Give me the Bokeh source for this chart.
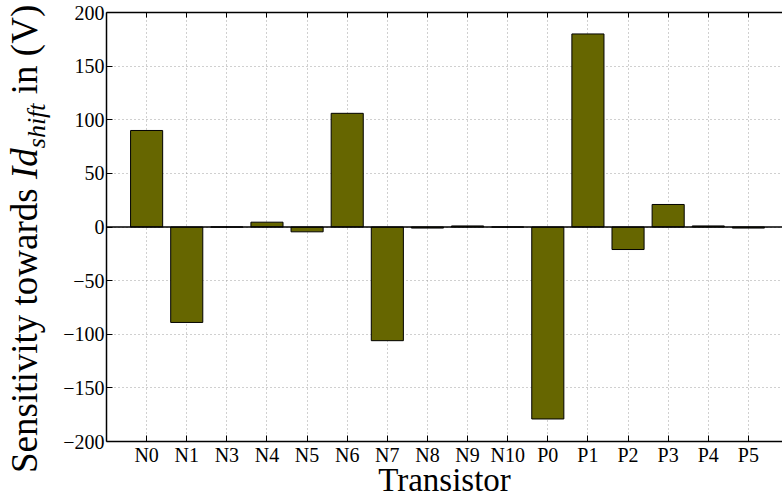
from bokeh.plotting import figure
from bokeh.models import FixedTicker, LinearAxis, Span, ColumnDataSource, Range1d, Div
from bokeh.layouts import row
from bokeh.embed import file_html
from bokeh.resources import INLINE

transistors = ["N0", "N1", "N3", "N4", "N5", "N6", "N7", "N8", "N9", "N10",
               "P0", "P1", "P2", "P3", "P4", "P5"]
sensitivity = [90, -89, 0, 4.5, -4.5, 106, -106, -1, 1, 0,
               -179, 180, -21, 21, 1, -1]
y_ticks = [-200, -150, -100, -50, 0, 50, 100, 150, 200]
positions = list(range(1, len(transistors) + 1))

ylabel_main, ylabel_sym, ylabel_sub, ylabel_tail = "Sensitivity towards ", "Id", "shift", " in (V)"
xlabel_text = "Transistor"

SERIF = "Liberation Serif"
W, H = 782, 502
LW = 60                     # strip holding the rotated y title
TOP, BOTTOM, LEFT = 12, 61, 103

# ---------------- rotated y title (HTML, with italic symbol and subscript) ----------------
ytitle_html = (
    f'<div style="position:relative;width:{LW}px;height:{H}px;overflow:hidden;">'
    f'<div style="position:absolute;left:6px;top:473px;transform-origin:0 0;'
    f'transform:rotate(-90deg);white-space:nowrap;font-family:\'{SERIF}\';'
    f'font-size:37px;line-height:1;color:black;">'
    f'{ylabel_main}<i>{ylabel_sym}</i>'
    f'<span style="position:relative;top:8px;font-size:26px;font-style:italic;">{ylabel_sub}</span>'
    f'{ylabel_tail}</div></div>'
)
ytitle = Div(text=ytitle_html, width=LW, height=H, margin=(0, 0, 0, 0))

# ---------------- main chart ----------------
src = ColumnDataSource(dict(x=positions, top=sensitivity, name=transistors))

p = figure(width=W - LW, height=H, x_range=Range1d(0, 16.85), y_range=Range1d(-200, 200),
           output_backend="svg", toolbar_location=None,
           min_border_left=LEFT - LW, min_border_right=0,
           min_border_top=TOP, min_border_bottom=BOTTOM)
p.outline_line_color = None
p.background_fill_color = "white"
p.border_fill_color = "white"

for g in (p.xgrid, p.ygrid):
    g.grid_line_color = "#a0a0a0"
    g.grid_line_dash = "1 3"
    g.grid_line_width = 1
p.xgrid.ticker = FixedTicker(ticks=positions)
p.ygrid.ticker = FixedTicker(ticks=y_ticks)

p.vbar(x="x", top="top", bottom=0, width=0.8, source=src,
       fill_color="#666600", line_color="black", line_width=1)

p.add_layout(Span(location=0, dimension="width", line_color="black", line_width=1.5))

xa = p.xaxis[0]
xa.ticker = FixedTicker(ticks=positions)
xa.major_label_overrides = {pos: name for pos, name in zip(positions, transistors)}
xa.major_label_text_font = SERIF
xa.major_label_text_font_size = "20px"
xa.major_label_standoff = 2
xa.axis_label = xlabel_text
xa.axis_label_text_font = SERIF
xa.axis_label_text_font_size = "33px"
xa.axis_label_text_font_style = "normal"
xa.axis_label_standoff = -7

ya = p.yaxis[0]
ya.ticker = FixedTicker(ticks=y_ticks)
ya.major_label_overrides = {t: (str(t).replace("-", "\u2212")) for t in y_ticks}
ya.major_label_text_font = SERIF
ya.major_label_text_font_size = "20px"
ya.major_label_standoff = 2

for ax in (xa, ya):
    ax.major_tick_in = 6
    ax.major_tick_out = 0
    ax.minor_tick_line_color = None
    ax.axis_line_width = 1.5
    ax.axis_line_color = "black"
    ax.major_tick_line_color = "black"
    ax.major_label_text_color = "black"
    ax.axis_label_text_color = "black"

top = LinearAxis(ticker=FixedTicker(ticks=positions), major_label_text_font_size="0px",
                 major_label_standoff=0, major_tick_in=5, major_tick_out=0,
                 minor_tick_line_color=None, axis_line_width=1.5, axis_line_color="black",
                 major_label_text_alpha=0)
p.add_layout(top, "above")

layout = row(ytitle, p, spacing=0)
open("out.html", "w").write(file_html(layout, INLINE))
